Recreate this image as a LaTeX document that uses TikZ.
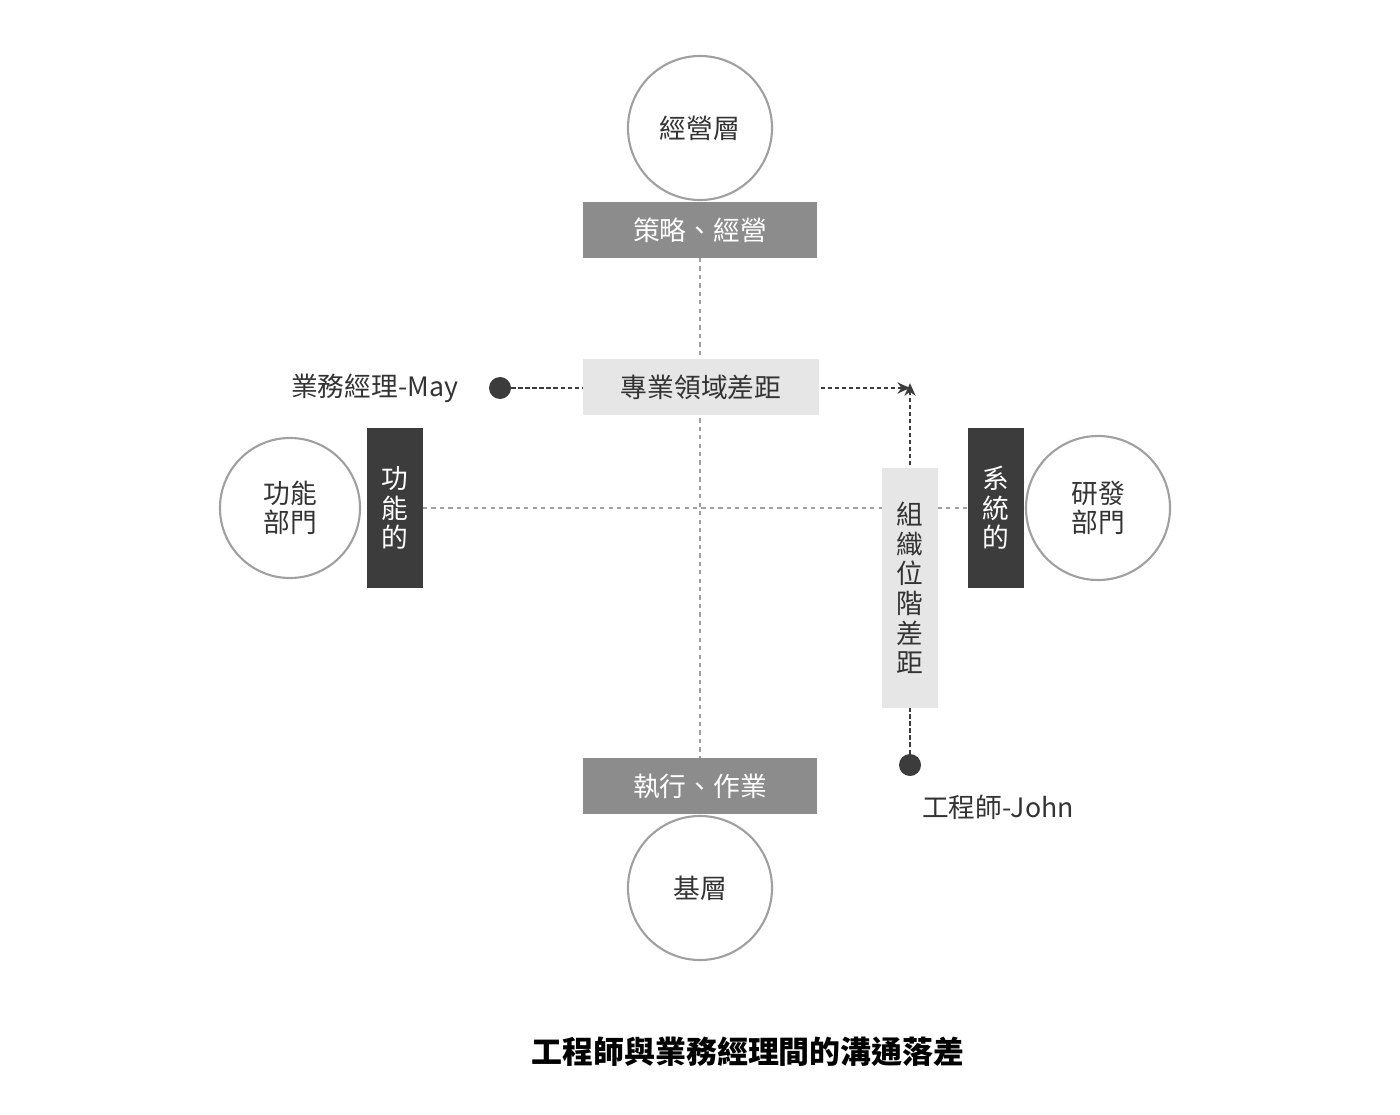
\documentclass[tikz,border=0pt]{standalone}
\usepackage{fontspec}
\setmainfont{Noto Sans CJK TC}
\usetikzlibrary{arrows.meta}
\definecolor{ringgray}{HTML}{A0A0A0}
\definecolor{midgray}{HTML}{8C8C8C}
\definecolor{darkgray}{HTML}{3C3C3C}
\definecolor{lightgray}{HTML}{E6E6E6}
\definecolor{textgray}{HTML}{333333}
\begin{document}
\begin{tikzpicture}[x=0.025cm, y=-0.025cm, font=\fontsize{19}{23}\selectfont, text=textgray]
    \tikzset{%
    ring/.style={circle, draw=ringgray, line width=1.5pt, fill=white, minimum size=3.6cm, align=center, inner sep=0pt},
    levelbox/.style={fill=midgray, text=white, minimum width=5.85cm, minimum height=1.38cm, inner sep=0pt},
    sidebox/.style={fill=darkgray, text=white, minimum width=1.4cm, minimum height=4cm, align=center, inner sep=0pt, font=\fontsize{19}{21}\selectfont},
    gapbox/.style={fill=lightgray, inner sep=0pt, align=center},
    guide/.style={dashed, draw=ringgray, line width=0.8pt},
    gaparrow/.style={densely dashed, draw=darkgray, line width=1pt, -{Stealth[length=9pt,width=8pt]}},
    person/.style={circle, fill=darkgray, minimum size=0.55cm, inner sep=0pt}
    }
    \useasboundingbox (0,0) rectangle (1400,1115);

    % guide lines
    \coordinate (topend) at (700,258);
    \coordinate (botend) at (700,758);
    \coordinate (leftend) at (423,508);
    \coordinate (rightend) at (968,508);
    \draw[guide] (topend) -- (botend);
    \draw[guide] (leftend) -- (rightend);

    % levels
    \node[ring] (top) at (700,128) {經營層};
    \node[levelbox] (strategy) at (700,230) {策略、經營};
    \node[levelbox] (execute) at (700,786) {執行、作業};
    \node[ring] (bottom) at (700,888) {基層};

    % departments
    \node[ring, minimum size=3.5cm] (funcdept) at (290,508) {功能\\[-2pt]部門};
    \node[sidebox] (funcbox) at (395,508) {功\\能\\的};
    \node[sidebox] (sysbox) at (996,508) {系\\統\\的};
    \node[ring] (rddept) at (1098,508) {研發\\[-2pt]部門};

    % people and gaps
    \coordinate (corner) at (910,388);
    \node[person] (may) at (500,388) {};
    \node[anchor=east] (maylabel) at (463,388) {業務經理-May};
    \node[person] (john) at (910,765) {};
    \node[anchor=north] (johnlabel) at (998,790) {工程師-John};
    \draw[gaparrow] (may) -- (corner);
    \draw[gaparrow, shorten >=-2pt] (john) -- (910,386);
    \node[gapbox, minimum width=5.9cm, minimum height=1.42cm] (domaingap) at (701,387) {專業領域差距};
    \node[gapbox, minimum width=1.42cm, minimum height=6cm, font=\fontsize{19}{21}\selectfont] (rankgap) at (910,588) {組\\織\\位\\階\\差\\距};

    % title
    \node[font=\fontsize{22}{26}\selectfont\bfseries, text=black] (title) at (748,1052) {工程師與業務經理間的溝通落差};
\end{tikzpicture}
\end{document}
